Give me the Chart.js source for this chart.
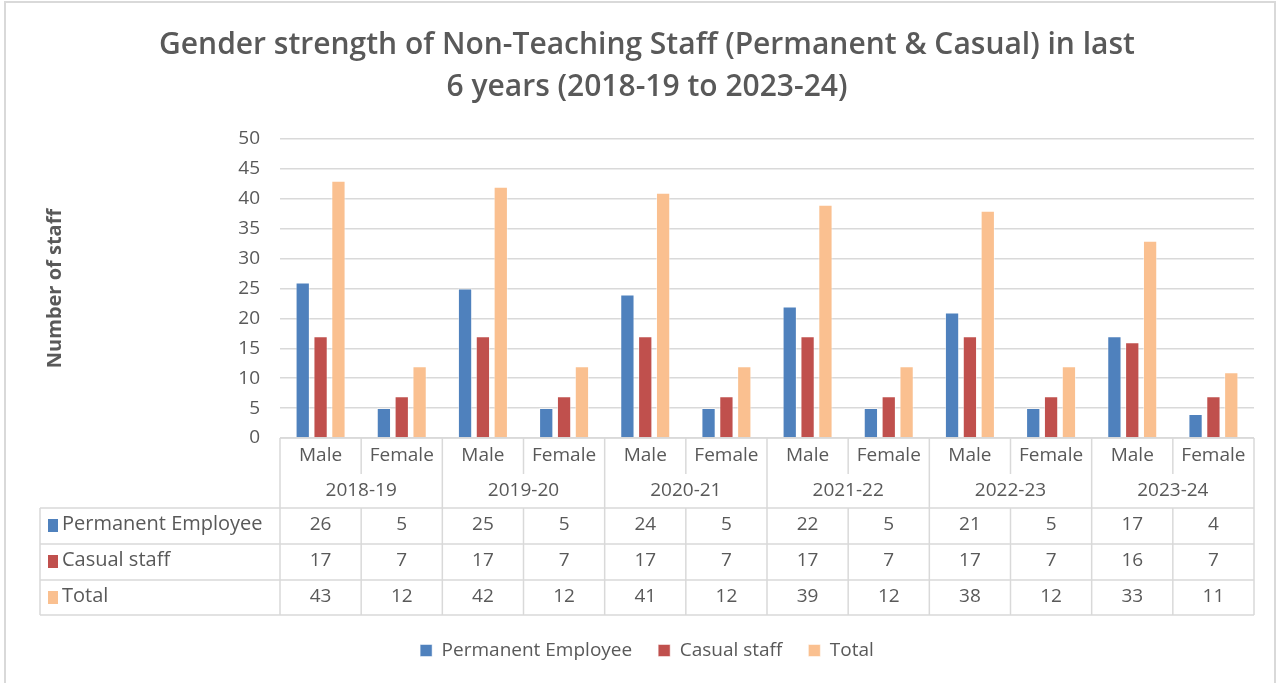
<!DOCTYPE html>
<html>
<head>
<meta charset="utf-8">
<script src="https://cdn.jsdelivr.net/npm/chart.js@4"></script>
<style>
	body { margin:0; background:#fff; }
	#wrap { position:relative; width:1280px; height:683px; }
</style>
</head>
<body>
<div id="wrap"><canvas id="c"></canvas></div>
<script>
const years = ['2018-19','2019-20','2020-21','2021-22','2022-23','2023-24']
const genders = ['Male','Female']
const permanent = [26,5,25,5,24,5,22,5,21,5,17,4]
const casual = [17,7,17,7,17,7,17,7,17,7,16,7]
const total = [43,12,42,12,41,12,39,12,38,12,33,11]
const yTicks = [0,5,10,15,20,25,30,35,40,45,50]

const FONT = '"Open Sans"'
const TXT = '#595959'
const LINE = '#d9d9d9'

const labels = years.flatMap(y => genders.map(g => g + ' ' + y))

// data table under the bars, laid out from the x scale
const tablePlugin = {
	id: 'dataTable',
	afterDraw: c => {
		const ctx = c.ctx, x = c.scales.x, top = c.chartArea.bottom
		const cw = x.width / labels.length
		const L = 40, R = x.right
		const rows = [
			{ name:'Permanent Employee', data:permanent, color:c.data.datasets[0].backgroundColor },
			{ name:'Casual staff', data:casual, color:c.data.datasets[1].backgroundColor },
			{ name:'Total', data:total, color:c.data.datasets[2].backgroundColor },
		]
		const rowTop = [70,106,142,177].map(v => top + v)
		ctx.save()
		ctx.strokeStyle = LINE
		ctx.lineWidth = 1.5
		const ln = (x1,y1,x2,y2) => { ctx.beginPath(); ctx.moveTo(x1,y1); ctx.lineTo(x2,y2); ctx.stroke() }
		ln(x.left, top, R, top)
		rowTop.forEach(y => ln(L, y, R, y))
		ln(L, rowTop[0], L, rowTop[3])
		for (let i = 0; i <= labels.length; i++) {
			const px = x.left + i * cw
			if (i % 2 == 0) ln(px, top, px, rowTop[3])
			else { ln(px, top, px, top + 36); ln(px, rowTop[0], px, rowTop[3]) }
		}
		ctx.fillStyle = TXT
		ctx.textAlign = 'center'
		ctx.textBaseline = 'middle'
		ctx.font = '19px ' + FONT
		labels.forEach((l, i) => {
			const px = x.getPixelForValue(i)
			ctx.fillText(genders[i % 2], px, top + 18)
			rows.forEach((r, k) => ctx.fillText(String(r.data[i]), px, rowTop[k] + 17))
		})
		years.forEach((y, i) => ctx.fillText(y, x.left + (i * 2 + 1) * cw, top + 53))
		ctx.textAlign = 'left'
		ctx.font = '20px ' + FONT
		rows.forEach((r, k) => {
			ctx.fillStyle = r.color
			ctx.fillRect(48, rowTop[k] + 11, 10, 13)
			ctx.fillStyle = TXT
			ctx.fillText(r.name, 62, rowTop[k] + 16)
		})
		ctx.restore()
	}
}

const framePlugin = {
	id: 'frame',
	beforeDraw: c => {
		const ctx = c.ctx
		ctx.save()
		ctx.strokeStyle = '#d9d9d9'
		ctx.lineWidth = 2
		ctx.strokeRect(5, 2, 1270, 700)
		ctx.restore()
	}
}

const ds = (label, data, color) => ({
	label, data,
	backgroundColor: color,
	borderColor: 'rgba(255,255,255,0.5)',
	borderWidth: 1,
	categoryPercentage: 0.66,
	barPercentage: 0.8,
})

new Chart(document.getElementById('c'), {
	type: 'bar',
	data: {
		labels,
		datasets: [
			ds('Permanent Employee', permanent, '#4F81BD'),
			ds('Casual staff', casual, '#C0504D'),
			ds('Total', total, '#FAC090'),
		]
	},
	plugins: [framePlugin, tablePlugin],
	options: {
		responsive: true,
		maintainAspectRatio: false,
		animation: false,
		layout: { padding: { left:40, right:26, top:0, bottom:13 } },
		plugins: {
			title: {
				display: true,
				text: ['Gender strength of Non-Teaching Staff (Permanent & Casual) in last', '6 years (2018-19 to 2023-24)'],
				color: TXT,
				font: { family: FONT, size: 30, weight: 600, lineHeight: '42px' },
				padding: { top: 24, bottom: 31 },
			},
			legend: {
				position: 'bottom',
				labels: {
					color: TXT,
					font: { family: FONT, size: 19 },
					boxWidth: 12, boxHeight: 12,
					padding: 26,
				}
			},
			tooltip: { enabled: false },
		},
		scales: {
			x: {
				ticks: { display: false },
				grid: { display: false },
				border: { display: false },
				afterFit: s => { s.height = 177 },
			},
			y: {
				min: 0, max: 50,
				afterBuildTicks: s => { s.ticks = yTicks.map(v => ({ value: v })) },
				afterFit: s => { s.width = 240 },
				ticks: { color: TXT, font: { family: FONT, size: 19 }, padding: 20 },
				grid: { color: LINE, lineWidth: 1.5, drawTicks: false },
				border: { display: false },
				title: {
					display: true,
					text: 'Number of staff',
					color: TXT,
					font: { family: FONT, size: 20, weight: 'bold' },
					padding: 3,
				},
			}
		}
	}
})
</script>
</body>
</html>
